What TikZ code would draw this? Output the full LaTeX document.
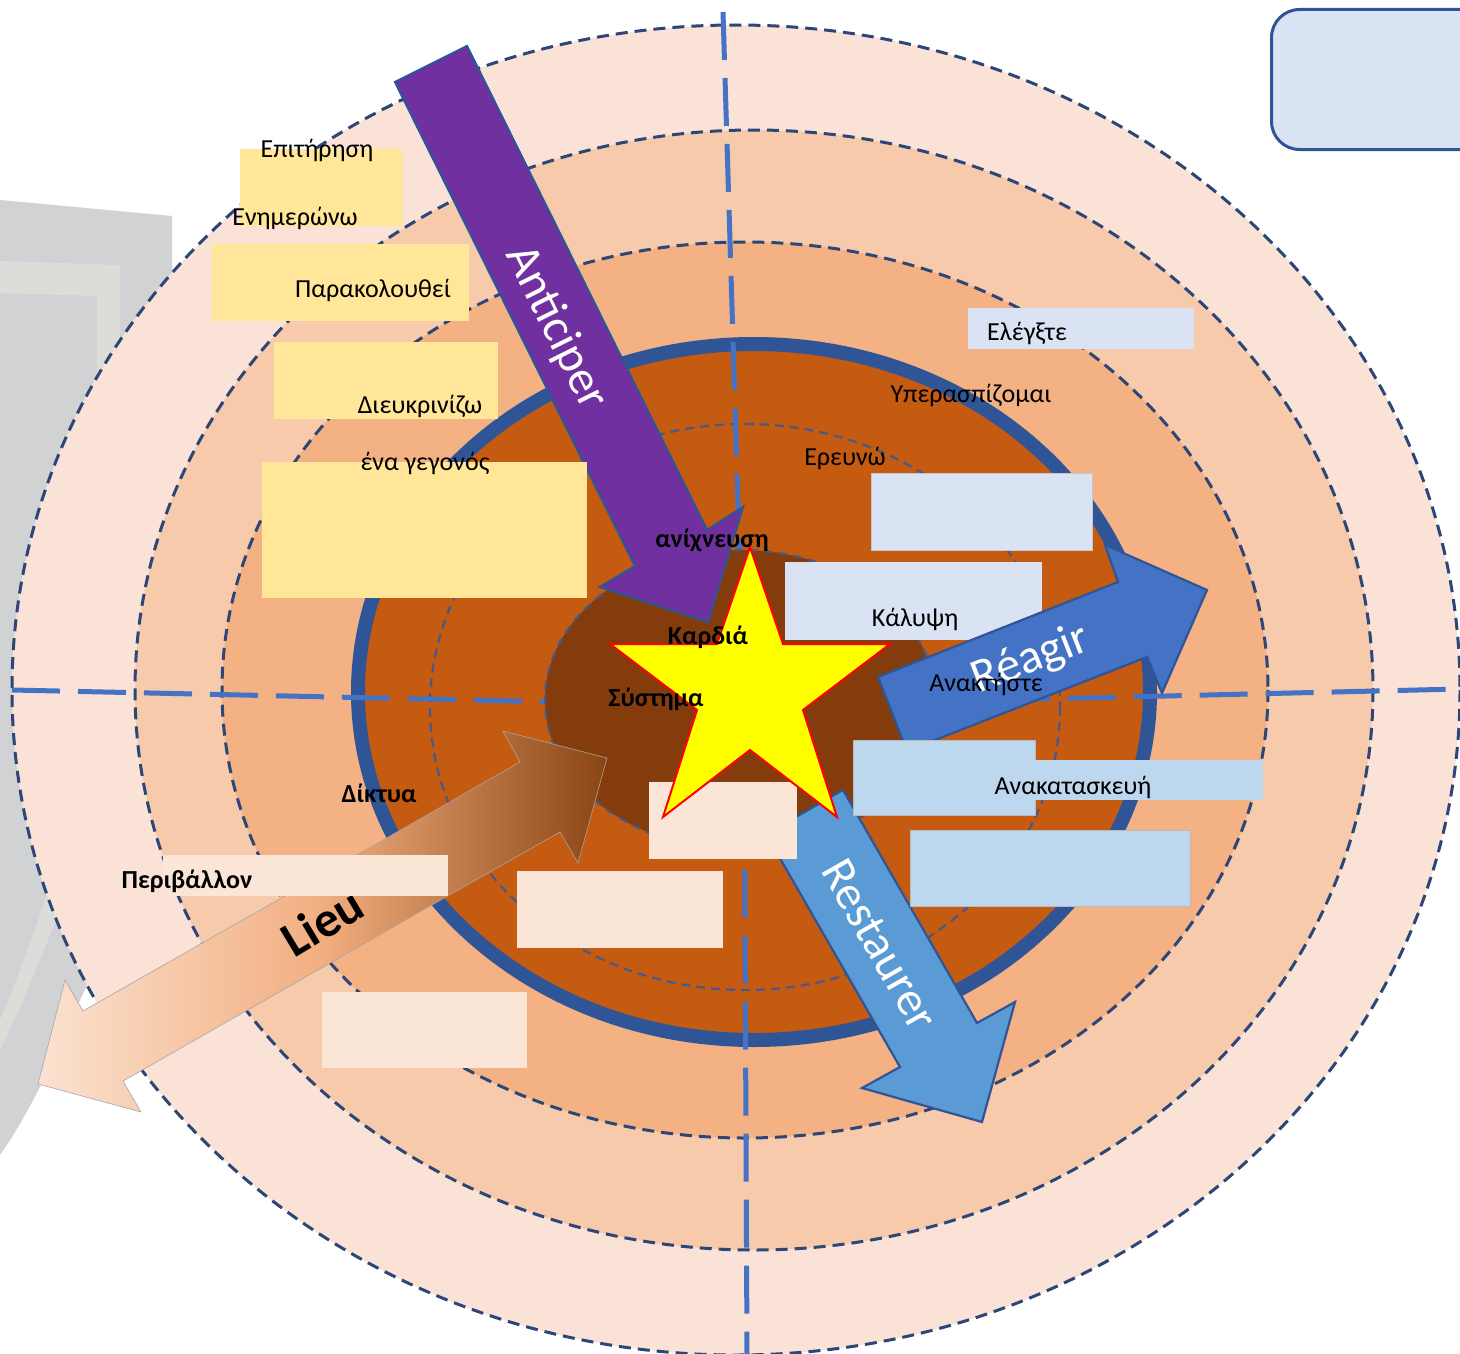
\documentclass[tikz,border=0pt]{standalone}
\usepackage{fontspec}
\setmainfont{Carlito}
\definecolor{ringa}{HTML}{FAE3D6}
\definecolor{ringb}{HTML}{F7CAAB}
\definecolor{ringc}{HTML}{F4B183}
\definecolor{corec}{HTML}{C55A11}
\definecolor{innerc}{HTML}{843C0C}
\definecolor{navy}{HTML}{2F5597}
\definecolor{dashc}{HTML}{2B4677}
\definecolor{dashd}{HTML}{45598A}
\definecolor{axisc}{HTML}{4472C4}
\definecolor{purp}{HTML}{7030A0}
\definecolor{reagc}{HTML}{4472C4}
\definecolor{restc}{HTML}{5B9BD5}
\definecolor{yelbox}{HTML}{FFE699}
\definecolor{lavbox}{HTML}{DAE3F3}
\definecolor{bluebox}{HTML}{BDD7EE}
\definecolor{peachbox}{HTML}{FBE5D6}
\definecolor{grayc}{HTML}{D1D2D4}
\definecolor{graylt}{HTML}{DCDDD8}
\definecolor{starc}{HTML}{FFFF00}
\definecolor{lieuL}{HTML}{FBE2D0}
\definecolor{lieuM}{HTML}{F2AE80}
\definecolor{lieuR}{HTML}{8B4513}
\begin{document}
\begin{tikzpicture}[x=1pt,y=-1pt,
  ringline/.style={draw=dashc, line width=3pt, dash pattern=on 12pt off 7pt},
  ringthin/.style={draw=dashd, line width=2.2pt, dash pattern=on 9pt off 6pt},
  axisline/.style={draw=axisc, line width=5pt, dash pattern=on 48pt off 18pt},
  lbl/.style={inner sep=0pt, text=black, font=\fontsize{26}{30}\selectfont},
  blbl/.style={inner sep=0pt, text=black, font=\fontsize{26}{30}\selectfont\bfseries},
  arrtxt/.style={inner sep=0pt, text=white, font=\fontsize{48}{54}\selectfont},
  blockarrow/.style={draw=navy, line width=2.2pt, line join=miter},
  yelb/.style={fill=yelbox, anchor=north west, inner sep=0pt},
  lavb/.style={fill=lavbox, anchor=north west, inner sep=0pt},
  blub/.style={fill=bluebox, anchor=north west, inner sep=0pt},
  pchb/.style={fill=peachbox, anchor=north west, inner sep=0pt}
]
\useasboundingbox (0,0) rectangle (1460,1354);
\clip (0,0) rectangle (1460,1354);

% grey background shape on the left
\fill[grayc] (0,200) -- (172,216) -- (172,600) .. controls (165,800) and (110,940) .. (80,1000) .. controls (55,1060) and (25,1120) .. (0,1155) -- cycle;
\fill[graylt] (0,261) -- (120,265) -- (120,600) .. controls (115,760) and (85,850) .. (62,905) .. controls (40,960) and (20,1010) .. (0,1050) -- (0,1020) .. controls (15,985) and (30,945) .. (45,900) .. controls (65,840) and (97,760) .. (97,600) -- (97,296) -- (0,293) -- cycle;

% top-right rounded box
\node[draw=navy, line width=3pt, fill=lavbox, rounded corners=28pt, anchor=north west, minimum width=230pt, minimum height=140pt, inner sep=0pt] (topbox) at (1270,8) {};

% rings
\path[ringline, fill=ringa] (736,690) ellipse [x radius=724, y radius=665];
\path[ringline, fill=ringb] (754,690) ellipse [x radius=619, y radius=560];
\path[ringline, fill=ringc] (745,690) ellipse [x radius=523, y radius=448];
\path[draw=navy, line width=14pt, fill=corec] (754,692) ellipse [x radius=396, y radius=348];
\path[ringthin] (745,707) ellipse [x radius=315, y radius=283];

% axes
\draw[axisline] (12,690) -- (745,706) -- (1460,689);
\draw[axisline] (723,12) -- (744,700) -- (747,1354);

% inner core
\path[ringthin, fill=innerc] (740,700) ellipse [x radius=195, y radius=150];

% Lieu double arrow
\draw[left color=lieuL, right color=lieuR, middle color=lieuM, draw=gray!70, line width=0.6pt]
  (38,1084) -- (65,980) -- (83,1011) -- (520,762) -- (503,731) -- (607,758) -- (578,863) -- (560,832) -- (123,1081) -- (141,1112) -- cycle;
\node[inner sep=0pt, text=black, font=\fontsize{50}{56}\selectfont\bfseries, rotate=31] (tlieu) at (322,922) {Lieu};

% Anticiper arrow
\draw[blockarrow, fill=purp] (395,82) -- (467,46) -- (707,530) -- (743,507) -- (708,622) -- (600,587) -- (635,566) -- cycle;
\node[arrtxt, rotate=-63.6] (tanti) at (556,328) {Anticiper};

% Restaurer arrow
\draw[blockarrow, fill=restc] (766,834) -- (843,790) -- (977,1023) -- (1015,1002) -- (982,1122) -- (862,1088) -- (900,1067) -- cycle;
\node[arrtxt, rotate=-60.4] (trest) at (880,945) {Restaurer};

% yellow boxes
\node[yelb, minimum width=163pt, minimum height=77pt] (y1) at (240,149) {};
\node[yelb, minimum width=257pt, minimum height=77pt] (y2) at (212,244) {};
\node[yelb, minimum width=224pt, minimum height=77pt] (y3) at (274,342) {};
\node[yelb, minimum width=325pt, minimum height=136pt] (y4) at (262,462) {};

% lavender boxes
\node[lavb, minimum width=226pt, minimum height=41pt] (l1) at (968,308) {};
\node[lavb, draw=gray!45, line width=0.8pt, minimum width=221pt, minimum height=77pt] (l2) at (871,473) {};
\node[lavb, minimum width=257pt, minimum height=78pt] (l3) at (785,562) {};

% peach boxes
\node[pchb, minimum width=148pt, minimum height=77pt] (p1) at (649,782) {};
\node[pchb, minimum width=206pt, minimum height=77pt] (p2) at (517,871) {};
\node[pchb, minimum width=205pt, minimum height=76pt] (p3) at (322,992) {};
\node[pchb, minimum width=285pt, minimum height=41pt] (p4) at (163,855) {};

% Reagir arrow
\draw[blockarrow, fill=reagc] (878,677) -- (1118,582) -- (1105,545) -- (1207,590) -- (1162,693) -- (1147,657) -- (907,751) -- cycle;
\node[arrtxt, rotate=21.5] (treag) at (1031,660) {Réagir};

% light blue boxes
\node[blub, draw=gray!55, line width=0.8pt, minimum width=182pt, minimum height=75pt] (b1) at (853,740) {};
\node[blub, minimum width=229pt, minimum height=40pt] (b2) at (1034,760) {};
\node[blub, draw=gray!55, line width=0.8pt, minimum width=280pt, minimum height=76pt] (b3) at (910,830) {};

% star
\draw[draw=red, line width=2pt, fill=starc, line join=miter]
  (750,547) -- (783,644) -- (890,644) -- (803,710) -- (837,817) -- (750,750) -- (663,817) -- (697,710) -- (610,644) -- (717,644) -- cycle;

% labels
\node[lbl] (epi) at (317,150) {Επιτήρηση};
\node[lbl] (enim) at (295,218) {Ενημερώνω};
\node[lbl] (para) at (373,290) {Παρακολουθεί};
\node[lbl] (dieu) at (420,406) {Διευκρινίζω};
\node[lbl] (gegon) at (425,463) {ένα γεγονός};
\node[lbl] (elegx) at (1027,333) {Ελέγξτε};
\node[lbl] (yper) at (971,395) {Υπερασπίζομαι};
\node[lbl] (erev) at (845,458) {Ερευνώ};
\node[lbl] (kalyp) at (915,619) {Κάλυψη};
\node[lbl] (anakt) at (986,684) {Ανακτήστε};
\node[lbl] (anakat) at (1073,787) {Ανακατασκευή};
\node[blbl] (anix) at (712,540) {ανίχνευση};
\node[blbl] (kard) at (708,637) {Καρδιά};
\node[blbl] (syst) at (656,699) {Σύστημα};
\node[blbl] (dikt) at (379,793) {Δίκτυα};
\node[blbl] (peri) at (187,881) {Περιβάλλον};
\end{tikzpicture}
\end{document}
